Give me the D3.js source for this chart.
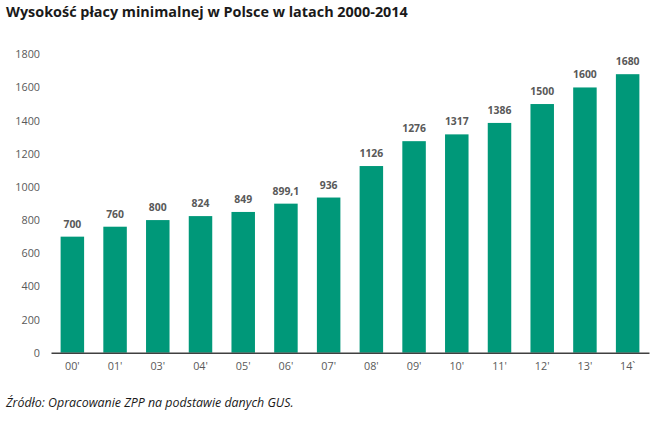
<!DOCTYPE html>
<html><head><meta charset="utf-8">
<script src="https://cdn.jsdelivr.net/npm/d3@7"></script>
<style>body{margin:0;background:#fff}svg{display:block}</style>
</head><body>
<svg id="c" width="655" height="424"></svg>
<script>
const categories = ["00'","01'","03'","04'","05'","06'","07'","08'","09'","10'","11'","12'","13'","14`"];
const values = [700,760,800,824,849,899.1,936,1126,1276,1317,1386,1500,1600,1680];
const valueLabels = ["700","760","800","824","849","899,1","936","1126","1276","1317","1386","1500","1600","1680"];
const yTicks = [0,200,400,600,800,1000,1200,1400,1600,1800];
const title = "Wysokość płacy minimalnej w Polsce w latach 2000-2014";
const source = "Źródło: Opracowanie ZPP na podstawie danych GUS.";

const svg = d3.select("#c");
const font = "'Open Sans', 'Noto Sans', sans-serif";
const x = d3.scaleBand().domain(categories).range([51, 649]).paddingInner(0.45).paddingOuter(0.225);
const y = d3.scaleLinear().domain([0, 1800]).range([352.7, 54.3]);

svg.append("text").attr("x", 6).attr("y", 17).attr("font-family", font).attr("font-weight", "bold")
  .attr("font-size", 14.4).attr("fill", "#1a1a1a").text(title);

const yAxis = svg.append("g").attr("transform", "translate(51,0)")
  .call(d3.axisLeft(y).tickValues(yTicks).tickSize(0).tickPadding(11).tickFormat(d3.format("d")));
yAxis.select(".domain").remove();
yAxis.selectAll("text").attr("font-family", font).attr("font-size", 10.8).attr("fill", "#595959");

svg.append("g").selectAll("rect").data(values).join("rect")
  .attr("x", (d, i) => x(categories[i])).attr("width", x.bandwidth())
  .attr("y", d => y(d)).attr("height", d => y(0) - y(d)).attr("fill", "#009879");

svg.append("g").selectAll("text").data(values).join("text")
  .attr("x", (d, i) => x(categories[i]) + x.bandwidth() / 2).attr("y", d => y(d) - 9)
  .attr("text-anchor", "middle").attr("font-family", font).attr("font-weight", "bold")
  .attr("font-size", 10.4).attr("fill", "#595959").text((d, i) => valueLabels[i]);

const xAxis = svg.append("g").attr("transform", `translate(0,${y(0)})`)
  .call(d3.axisBottom(x).tickSize(0).tickPadding(10));
xAxis.select(".domain").attr("stroke", "#404040").attr("stroke-width", 1.5);
xAxis.selectAll("text").attr("font-family", font).attr("font-size", 10.8).attr("fill", "#595959");

svg.append("text").attr("x", 6).attr("y", 407).attr("font-family", font).attr("font-style", "italic")
  .attr("font-size", 12.4).attr("fill", "#1a1a1a").text(source);
</script>
</body></html>
